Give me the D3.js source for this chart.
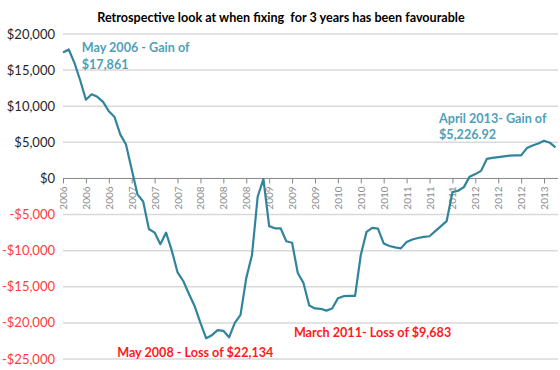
<!DOCTYPE html>
<html>
<head>
<meta charset="utf-8">
<script src="https://cdn.jsdelivr.net/npm/d3@7"></script>
<style>
  body { margin: 0; background: #fff; }
  text { font-family: Lato, "Open Sans", sans-serif; }
</style>
</head>
<body>
<div id="chart"></div>
<script>
const width = 560
const height = 370
const margin = { top: 34, right: 2, bottom: 11, left: 63 }

// monthly values, Apr 2006 .. Jun 2013
const months = d3.range(87)
const values = [
  17430, 17861, 16000, 13600, 10900, 11650, 11300, 10600, 9300, 8500,
  6100, 4700, 1250, -2200, -3200, -7000, -7500, -9100, -7500, -10000,
  -13000, -14200, -16000, -17700, -20000, -22134, -21700, -21000, -21100, -22000,
  -20000, -18900, -13800, -10600, -2500, -100, -6600, -6900, -6900, -8700,
  -8900, -13100, -14500, -17600, -18000, -18050, -18300, -18000, -16600, -16300,
  -16250, -16250, -10600, -7400, -6850, -6950, -9000, -9350, -9550, -9683,
  -8800, -8450, -8250, -8100, -8000, -7300, -6600, -5900, -1900, -1700,
  -1200, 250, 600, 1050, 2700, 2850, 2950, 3050, 3150, 3200,
  3200, 4200, 4550, 4850, 5227, 4950, 4300
]
// a label every fourth month
const tickYears = ['2006', '2006', '2006', '2007', '2007', '2007', '2008', '2008',
  '2008', '2009', '2009', '2009', '2010', '2010', '2010', '2011', '2011', '2011',
  '2012', '2012', '2012', '2013']
const yTicks = [20000, 15000, 10000, 5000, 0, -5000, -10000, -15000, -20000, -25000]

const notes = [
  { lines: ['May 2006 - Gain of', '$17,861'], x: 1, v: 17861, dx: 13, dy: 2.6, color: '#4f9fb8' },
  { lines: ['April 2013- Gain of', '$5,226.92'], x: 84, v: 5227, dx: -105, dy: -17.7, color: '#4f9fb8' },
  { lines: ['May 2008 - Loss of $22,134'], x: 25, v: -22134, dx: -89, dy: 18.7, color: '#ff1a1a' },
  { lines: ['March 2011- Loss of $9,683'], x: 59, v: -9683, dx: -107, dy: 89, color: '#ff1a1a' }
]

const svg = d3.select('#chart')
  .append('svg')
  .attr('width', width)
  .attr('height', height)

const x = d3.scaleLinear()
  .domain([0, months.length - 1])
  .range([margin.left, 555.5])

const y = d3.scaleLinear()
  .domain([-25000, 20000])
  .range([height - margin.bottom, margin.top])

// title
svg.append('text')
  .attr('x', 281)
  .attr('y', 22)
  .attr('text-anchor', 'middle')
  .attr('font-size', 12.6)
  .attr('font-weight', 'bold')
  .attr('fill', '#000')
  .style('white-space', 'pre')
  .text('Retrospective look at when fixing  for 3 years has been favourable')

// gridlines
svg.append('g')
  .selectAll('line')
  .data(yTicks.filter(d => d !== 0))
  .enter()
  .append('line')
  .attr('x1', margin.left)
  .attr('x2', width - margin.right)
  .attr('y1', d => y(d))
  .attr('y2', d => y(d))
  .attr('stroke', '#d9d9d9')
  .attr('stroke-width', 1.5)

// y labels
svg.append('g')
  .selectAll('text')
  .data(yTicks)
  .enter()
  .append('text')
  .attr('x', 55)
  .attr('y', d => y(d) + 4.5)
  .attr('text-anchor', 'end')
  .attr('font-size', 13)
  .attr('fill', d => d < 0 ? '#ff3b3b' : '#262626')
  .text(d => (d < 0 ? '-$' : '$') + d3.format(',')(Math.abs(d)))

// category axis sitting on zero
const xAxis = d3.axisBottom(x)
  .tickValues(d3.range(0, 85, 4))
  .tickSize(5)
  .tickFormat((d, i) => tickYears[i])

const gx = svg.append('g')
  .attr('transform', 'translate(0,' + y(0) + ')')
  .call(xAxis)

gx.select('.domain')
  .attr('d', 'M' + margin.left + ',0H' + (width - margin.right))
  .attr('stroke', '#868686')
gx.selectAll('.tick line').attr('stroke', '#868686')
gx.selectAll('.tick text')
  .attr('font-family', '"DejaVu Sans", sans-serif')
  .attr('font-size', 10)
  .attr('fill', '#8c8c8c')
  .attr('transform', 'rotate(-90)')
  .attr('text-anchor', 'end')
  .attr('x', -8)
  .attr('y', 0)
  .attr('dy', '0.35em')

// the series
const line = d3.line()
  .x((d, i) => x(i))
  .y(d => y(d))

svg.append('path')
  .datum(values)
  .attr('d', line)
  .attr('fill', 'none')
  .attr('stroke', '#31849b')
  .attr('stroke-width', 2.2)
  .attr('stroke-linejoin', 'round')

// annotations
notes.forEach(n => {
  const t = svg.append('text')
    .attr('font-size', 12.6)
    .attr('font-weight', 'bold')
    .attr('fill', n.color)
  n.lines.forEach((s, i) => {
    t.append('tspan')
      .attr('x', x(n.x) + n.dx)
      .attr('y', y(n.v) + n.dy + i * 16.5)
      .text(s)
  })
})
</script>
</body>
</html>
